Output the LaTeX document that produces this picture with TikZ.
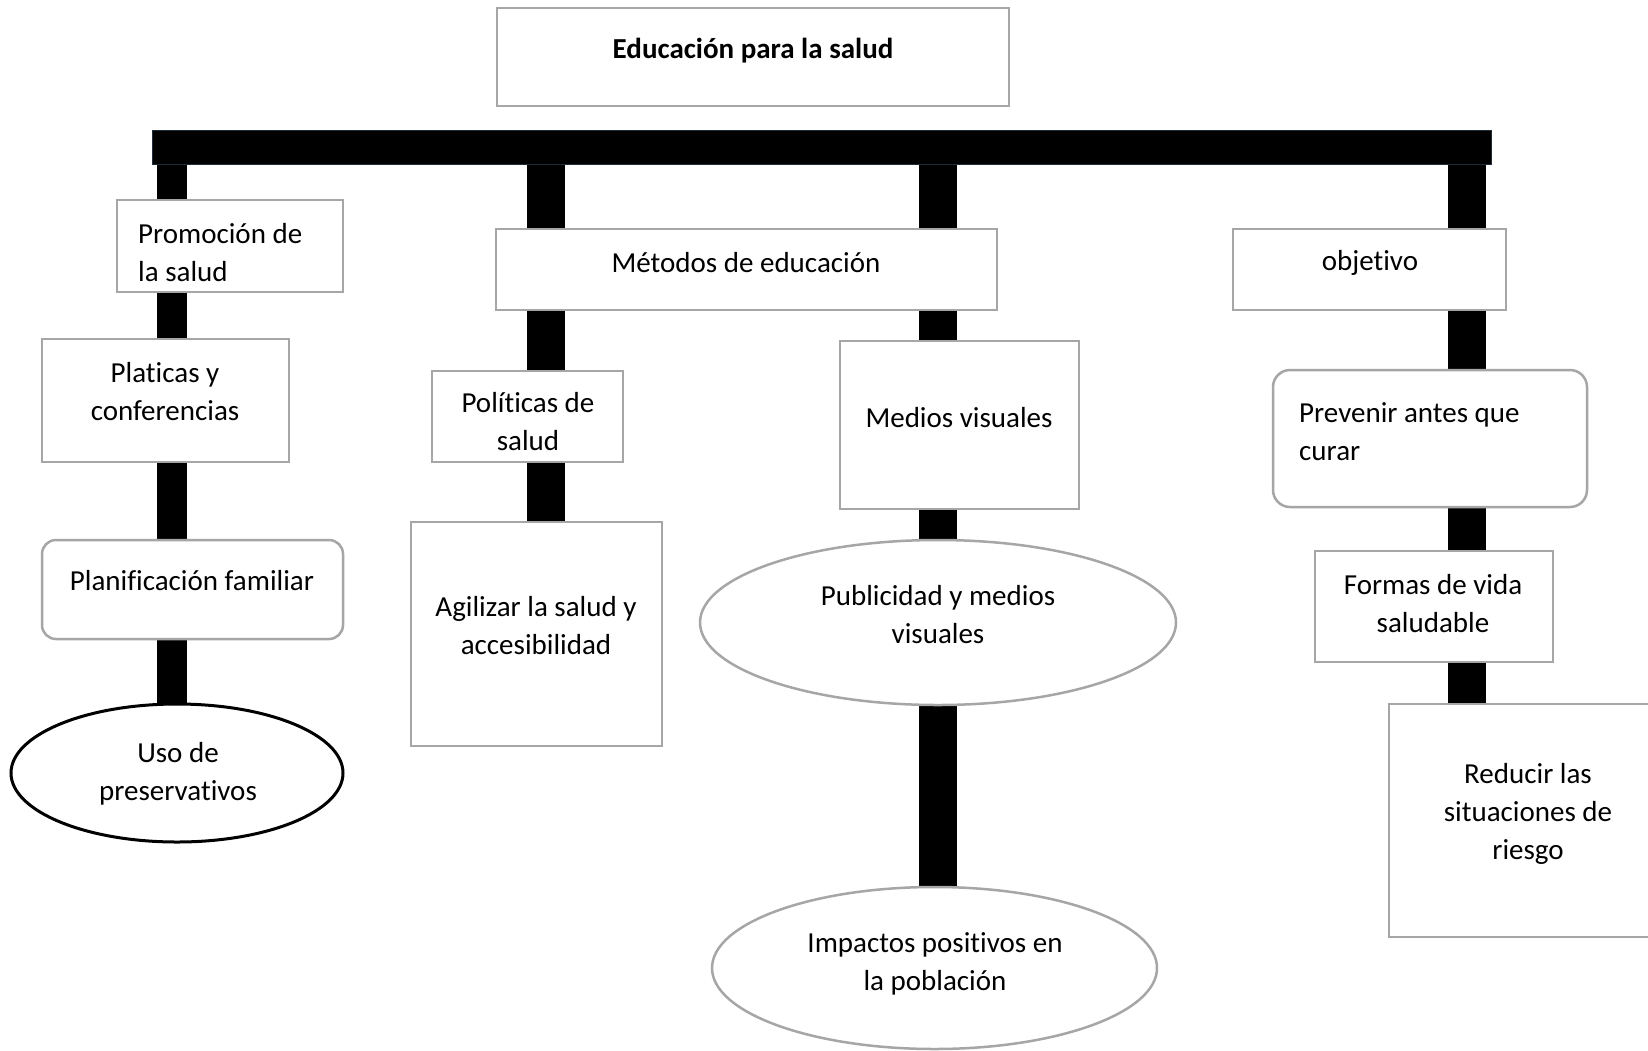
\documentclass[tikz,border=0pt]{standalone}
\usepackage{fontspec}
\setmainfont{Carlito}[Ligatures=NoCommon, RawFeature={-calt;-clig}]
\usetikzlibrary{shapes.geometric,backgrounds}
\definecolor{boxgray}{HTML}{A6A6A6}
\definecolor{stemedge}{HTML}{1F2D3A}
\begin{document}
\begin{tikzpicture}[x=1pt,y=-1pt,
  box/.style={draw=boxgray, line width=2.5pt, fill=white, rectangle, inner sep=0pt},
  rbox/.style={box, rounded corners=14pt},
  oval/.style={draw=boxgray, line width=2.5pt, fill=white, ellipse, inner sep=0pt},
  txt/.style={inner sep=0pt, font=\fontsize{29}{38}\selectfont, yshift=-2.5pt},
  stemline/.style={line width=38pt, draw=black, line cap=butt},
]
\useasboundingbox (0,0) rectangle (1648,1050);
\clip (0,0) rectangle (1648,1050);

% boxes
\node[box, minimum width=512pt, minimum height=98pt] (top) at (753,57) {};
\node[fill=black, draw=stemedge, line width=1pt, minimum width=1339pt, minimum height=34pt, inner sep=0pt] (bar) at (821.5,147) {};
\node[box, minimum width=226pt, minimum height=92pt] (promo) at (230,246) {};
\node[box, minimum width=501pt, minimum height=81pt] (metodos) at (746.5,269.5) {};
\node[box, minimum width=273pt, minimum height=81pt] (obj) at (1369.5,269.5) {};
\node[box, minimum width=247pt, minimum height=123pt] (plat) at (165.5,400.5) {};
\node[rbox, minimum width=301pt, minimum height=99pt] (plan) at (192.5,589.5) {};
\node[oval, draw=black, line width=3pt, minimum width=332pt, minimum height=138pt] (uso) at (177,773) {};
\node[box, minimum width=191pt, minimum height=91pt] (pol) at (527.5,416.5) {};
\node[box, minimum width=251pt, minimum height=224pt] (agil) at (536.5,634) {};
\node[box, minimum width=239pt, minimum height=168pt] (medios) at (959.5,425) {};
\node[oval, minimum width=476pt, minimum height=165pt] (publi) at (938,622.5) {};
\node[oval, minimum width=445pt, minimum height=162pt] (imp) at (934.5,968) {};
\node[rbox, rounded corners=17pt, minimum width=314pt, minimum height=137pt] (prev) at (1430,438.5) {};
\node[box, minimum width=238pt, minimum height=111pt] (formas) at (1434,606.5) {};
\node[box, minimum width=278pt, minimum height=233pt] (red) at (1528,820.5) {};

% texts
\node[txt, font=\fontsize{29}{38}\selectfont\bfseries, yshift=-1pt] at (753,47) {Educación para la salud};
\node[txt, anchor=west, align=left] at (138,250) {Promoción de\\la salud};
\node[txt] at (746,260) {Métodos de educación};
\node[txt] at (1370,260) {objetivo};
\node[txt, align=center] at (165,389) {Platicas y\\conferencias};
\node[txt] at (192,578) {Planificación familiar};
\node[txt, align=center] at (178,771) {Uso de\\preservativos};
\node[txt, align=center] at (528,419) {Políticas de\\salud};
\node[txt, align=center] at (536,623) {Agilizar la salud y\\accesibilidad};
\node[txt] at (959,415) {Medios visuales};
\node[txt, align=center] at (938,612) {Publicidad y medios\\visuales};
\node[txt, align=center] at (935,961) {Impactos positivos en\\la población};
\node[txt, anchor=west, align=left] at (1299,429) {Prevenir antes que\\curar};
\node[txt, align=center] at (1433,601) {Formas de vida\\saludable};
\node[txt, align=center] at (1528,811) {Reducir las\\situaciones de\\riesgo};

% stems
\coordinate (s1) at (172,0);
\coordinate (s2) at (546,0);
\coordinate (s3) at (938,0);
\coordinate (s4) at (1467,0);
\begin{scope}[on background layer]
  \fill[white] (0,0) rectangle (1648,1050);
  \draw[stemline, line width=30pt] (bar.center -| s1) -- (uso.north -| s1);
  \draw[stemline] (bar.center -| s2) -- (agil.north -| s2);
  \draw[stemline] (bar.center -| s3) -- (imp.north -| s3);
  \draw[stemline] (bar.center -| s4) -- (red.north -| s4);
\end{scope}
\end{tikzpicture}
\end{document}
